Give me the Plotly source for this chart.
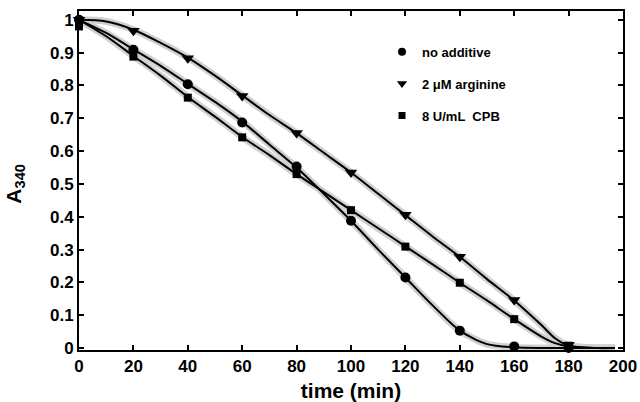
import plotly.graph_objects as go

# measured points
t_pts = [0, 20, 40, 60, 80, 100, 120, 140, 160, 180]
no_add = [1.0, 0.909, 0.804, 0.687, 0.553, 0.388, 0.215, 0.053, 0.005, 0.0]
arg = [1.0, 0.967, 0.883, 0.768, 0.655, 0.535, 0.406, 0.278, 0.146, 0.01]
cpb = [0.98, 0.888, 0.763, 0.642, 0.530, 0.420, 0.309, 0.199, 0.088, 0.007]

# fitted curves
t_fit = [0, 10, 20, 30, 40, 50, 60, 70, 80, 90, 100, 110, 120, 130, 140, 150, 160, 170, 175, 180, 190, 197]
fit_no_add = [1.0, 0.96, 0.91, 0.86, 0.805, 0.75, 0.69, 0.62, 0.55, 0.47, 0.388, 0.30, 0.215, 0.13, 0.053, 0.012, 0.002, 0.0, 0.0, 0.0, 0.0, 0.0]
fit_arg = [1.0, 0.995, 0.97, 0.93, 0.885, 0.83, 0.77, 0.71, 0.655, 0.595, 0.535, 0.47, 0.405, 0.34, 0.278, 0.21, 0.145, 0.07, 0.03, 0.008, 0.0, 0.0]
fit_cpb = [1.0, 0.95, 0.89, 0.83, 0.765, 0.705, 0.643, 0.588, 0.53, 0.475, 0.42, 0.365, 0.31, 0.255, 0.199, 0.145, 0.088, 0.035, 0.015, 0.005, 0.0, 0.0]

labels = ["no additive", "2 \u03bcM arginine", "8 U/mL  CPB"]
symbols = ["circle", "triangle-down", "square"]
sizes = [10, 11, 8]
leg_sizes = [8, 9, 7]

fig = go.Figure()
for fy in [fit_no_add, fit_arg, fit_cpb]:
    fig.add_trace(go.Scatter(x=t_fit, y=fy, mode="lines", line=dict(color="#d0d0d0", width=7, shape="spline", smoothing=0.8),
                             showlegend=False, hoverinfo="skip"))
for fy in [fit_no_add, fit_arg, fit_cpb]:
    fig.add_trace(go.Scatter(x=t_fit, y=fy, mode="lines", line=dict(color="black", width=2, shape="spline", smoothing=0.8),
                             showlegend=False, hoverinfo="skip"))
for ys, sym, sz in zip([no_add, arg, cpb], symbols, sizes):
    fig.add_trace(go.Scatter(x=t_pts, y=ys, mode="markers", marker=dict(symbol=sym, size=sz, color="black"),
                             showlegend=False, cliponaxis=False))
for i, (lab, sym, sz) in enumerate(zip(labels, symbols, leg_sizes)):
    fig.add_trace(go.Scatter(x=[None], y=[None], mode="markers", name=lab, legendgroup=str(i),
                             marker=dict(symbol=sym, size=sz, color="black")))

axis_common = dict(showline=True, linecolor="black", linewidth=2, mirror="ticks", ticks="inside",
                   ticklen=5, tickwidth=2, tickcolor="black", showgrid=False, zeroline=False, automargin=False,
                   tickfont=dict(family="Liberation Sans", size=17, color="black", weight="bold"))
fig.update_xaxes(range=[0, 200], tick0=0, dtick=20, **axis_common,
                 title=dict(text="<b>time (min)</b>", font=dict(family="Liberation Sans", size=21, color="black")))
fig.update_yaxes(range=[-0.006, 1.027], tickvals=[0, 0.1, 0.2, 0.3, 0.4, 0.5, 0.6, 0.7, 0.8, 0.9, 1],
                 ticktext=["0", "0.1", "0.2", "0.3", "0.4", "0.5", "0.6", "0.7", "0.8", "0.9", "1"], **axis_common)
fig.add_annotation(text="<b>A<sub>340</sub></b>", xref="paper", yref="paper", x=-0.118, y=0.49,
                   xanchor="center", yanchor="middle", textangle=-90, showarrow=False,
                   font=dict(family="Liberation Sans", size=21, color="black"))
fig.update_layout(width=640, height=402, margin=dict(l=79, r=17, t=11, b=52),
                  plot_bgcolor="white", paper_bgcolor="white",
                  legend=dict(x=0.557, y=0.924, xanchor="left", yanchor="top", tracegroupgap=12,
                              font=dict(family="Liberation Sans", size=13, color="black", weight="bold"),
                              bgcolor="rgba(0,0,0,0)", itemwidth=30))
fig.write_html("out.html")
